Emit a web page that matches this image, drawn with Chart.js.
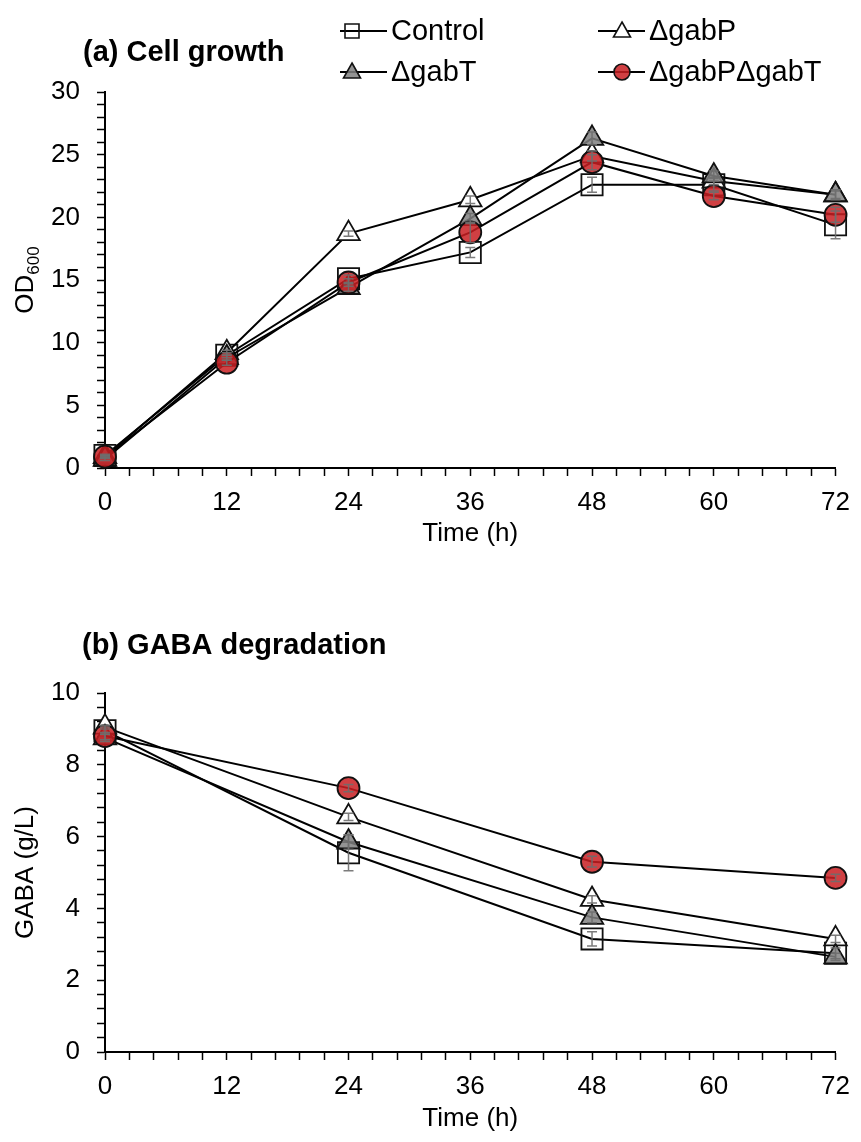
<!DOCTYPE html>
<html>
<head>
<meta charset="utf-8">
<script src="https://cdn.jsdelivr.net/npm/chart.js@4.4.1/dist/chart.umd.min.js"></script>
<style>
  html, body { margin: 0; padding: 0; background: #fff; }
  #wrap { position: relative; width: 861px; height: 1142px; }
  canvas { position: absolute; left: 0; }
</style>
</head>
<body>
<div id="wrap">
  <canvas id="growthChart" width="861" height="571" style="top:0"></canvas>
  <canvas id="gabaChart" width="861" height="571" style="top:571px"></canvas>
</div>
<script>
// series names
const seriesNames = ['Control', 'ΔgabP', 'ΔgabT', 'ΔgabPΔgabT'];

// (a) cell growth, OD600
const growthTimes = [0, 12, 24, 36, 48, 60, 72];
const growthControl = [1.0, 9.0, 15.1, 17.2, 22.6, 22.6, 19.4];
const growthGabP = [0.9, 9.2, 18.7, 21.4, 24.9, 22.9, 21.8];
const growthGabT = [0.7, 8.8, 14.4, 19.9, 26.3, 23.3, 21.8];
const growthGabPT = [0.9, 8.4, 14.8, 18.8, 24.4, 21.7, 20.2];
const growthErrControl = [0.1, 0.2, 0.3, 0.4, 0.6, 0.5, 1.1];
const growthErrGabP = [0.1, 0.2, 0.2, 0.3, 0.4, 0.3, 0.3];
const growthErrGabT = [0.1, 0.2, 0.3, 0.4, 0.5, 0.4, 0.4];
const growthErrGabPT = [0.1, 0.2, 0.3, 0.8, 0.6, 0.3, 0.6];

// (b) GABA, g/L
const gabaTimes = [0, 24, 48, 72];
const gabaControl = [8.95, 5.55, 3.15, 2.75];
const gabaGabP = [9.05, 6.55, 4.25, 3.15];
const gabaGabT = [8.75, 5.85, 3.75, 2.65];
const gabaGabPT = [8.8, 7.35, 5.3, 4.85];
const gabaErrControl = [0.1, 0.5, 0.2, 0.15];
const gabaErrGabP = [0.05, 0.1, 0.1, 0.1];
const gabaErrGabT = [0.1, 0.2, 0.15, 0.1];
const gabaErrGabPT = [0.1, 0.1, 0.15, 0.1];

const FONT = "'Liberation Sans', Arial, sans-serif";

const seriesStyles = [
    {pointStyle: 'rect', radius: 15, fill: 'rgba(0,0,0,0)', order: 4},
    {pointStyle: 'triangle', radius: 13, fill: '#ffffff', order: 3},
    {pointStyle: 'triangle', radius: 13, fill: 'rgba(128,128,128,0.85)', order: 2},
    {pointStyle: 'circle', radius: 11, fill: 'rgba(200,30,34,0.85)', order: 1}
];

function makeDatasets(times, seriesList, errList) {
    return seriesList.map((vals, i) => {
        const st = seriesStyles[i];
        return {
            label: seriesNames[i],
            data: vals.map((v, j) => ({x: times[j], y: v})),
            errors: errList[i],
            borderColor: '#000',
            borderWidth: 2,
            pointStyle: st.pointStyle,
            pointRadius: st.radius,
            pointBackgroundColor: st.fill,
            pointBorderColor: '#111',
            pointBorderWidth: 1.8,
            tension: 0,
            clip: false,
            order: st.order
        };
    });
}

function isMult(v, step) {
    return Math.abs(v / step - Math.round(v / step)) < 1e-6;
}

const errorBars = {
    id: 'errorBars',
    afterDatasetsDraw(chart) {
        const ctx = chart.ctx;
        const ys = chart.scales.y;
        ctx.save();
        ctx.strokeStyle = 'rgba(110,110,110,0.9)';
        ctx.lineWidth = 1.5;
        chart.data.datasets.forEach((ds, i) => {
            const meta = chart.getDatasetMeta(i);
            ds.errors.forEach((e, j) => {
                const pt = meta.data[j];
                const v = ds.data[j].y;
                const top = ys.getPixelForValue(v + e);
                const bot = ys.getPixelForValue(v - e);
                ctx.beginPath();
                ctx.moveTo(pt.x, top); ctx.lineTo(pt.x, bot);
                ctx.moveTo(pt.x - 5, top); ctx.lineTo(pt.x + 5, top);
                ctx.moveTo(pt.x - 5, bot); ctx.lineTo(pt.x + 5, bot);
                ctx.stroke();
            });
        });
        ctx.restore();
    }
};

function drawMarker(ctx, i, x, y) {
    const st = seriesStyles[i];
    ctx.beginPath();
    if (st.pointStyle === 'rect') {
        ctx.rect(x - 7, y - 7, 14, 14);
    } else if (st.pointStyle === 'triangle') {
        ctx.moveTo(x, y - 9);
        ctx.lineTo(x + 8.5, y + 6);
        ctx.lineTo(x - 8.5, y + 6);
        ctx.closePath();
    } else {
        ctx.arc(x, y, 8, 0, Math.PI * 2);
    }
    ctx.fillStyle = st.fill;
    ctx.fill();
    ctx.lineWidth = 1.6;
    ctx.strokeStyle = '#111';
    ctx.stroke();
}

const panelText = {
    id: 'panelText',
    afterDraw(chart, args, opts) {
        const ctx = chart.ctx;
        const area = chart.chartArea;
        ctx.save();
        ctx.fillStyle = '#000';
        // panel title
        ctx.font = 'bold 29px ' + FONT;
        ctx.textBaseline = 'middle';
        ctx.textAlign = 'left';
        ctx.fillText(opts.title, opts.titleX, opts.titleY);

        // y axis title with optional subscript
        ctx.translate(opts.yTitleX, (area.top + area.bottom) / 2);
        ctx.rotate(-Math.PI / 2);
        ctx.font = '26px ' + FONT;
        const mainW = ctx.measureText(opts.yTitle).width;
        let subW = 0;
        if (opts.ySub) {
            ctx.font = '17px ' + FONT;
            subW = ctx.measureText(opts.ySub).width;
        }
        const x0 = -(mainW + subW) / 2;
        ctx.font = '26px ' + FONT;
        ctx.fillText(opts.yTitle, x0, 0);
        if (opts.ySub) {
            ctx.font = '17px ' + FONT;
            ctx.fillText(opts.ySub, x0 + mainW, 8);
        }
        ctx.setTransform(1, 0, 0, 1, 0, 0);

        // legend
        if (opts.legend) {
            const items = [
                {i: 0, x: 340, y: 31, mk: 12},
                {i: 1, x: 598, y: 31, mk: 24},
                {i: 2, x: 340, y: 72, mk: 12},
                {i: 3, x: 598, y: 72, mk: 24}
            ];
            items.forEach(it => {
                ctx.beginPath();
                ctx.moveTo(it.x, it.y);
                ctx.lineTo(it.x + 47, it.y);
                ctx.strokeStyle = '#000';
                ctx.lineWidth = 2;
                ctx.stroke();
                drawMarker(ctx, it.i, it.x + it.mk, it.y);
                ctx.fillStyle = '#000';
                ctx.font = '29px ' + FONT;
                ctx.textAlign = 'left';
                ctx.textBaseline = 'middle';
                ctx.fillText(seriesNames[it.i], it.x + 51, it.y + 1);
            });
        }
        ctx.restore();
    }
};

function makeOptions(cfg) {
    return {
        responsive: false,
        animation: false,
        events: [],
        layout: {padding: {left: 0, right: 18, top: cfg.padTop, bottom: 0}},
        plugins: {
            legend: {display: false},
            tooltip: {enabled: false},
            panelText: cfg.text
        },
        scales: {
            x: {
                type: 'linear',
                min: 0,
                max: 72,
                afterFit: s => { s.height = cfg.xHeight; },
                ticks: {
                    stepSize: 2.4,
                    autoSkip: false,
                    maxRotation: 0,
                    padding: 11,
                    color: '#000',
                    font: {family: FONT, size: 26},
                    callback: v => isMult(v, 12) ? String(Math.round(v)) : ''
                },
                grid: {
                    drawOnChartArea: false,
                    drawTicks: true,
                    tickLength: 8,
                    tickWidth: 1.5,
                    tickColor: '#000'
                },
                border: {display: true, color: '#000', width: 2},
                title: {
                    display: true,
                    text: 'Time (h)',
                    color: '#000',
                    font: {family: FONT, size: 26},
                    padding: {top: 0, bottom: cfg.xTitlePad}
                }
            },
            y: {
                min: 0,
                max: cfg.yMax,
                afterFit: s => { s.width = 105; },
                ticks: {
                    stepSize: cfg.yStep,
                    autoSkip: false,
                    padding: 17,
                    color: '#000',
                    font: {family: FONT, size: 26},
                    callback: v => isMult(v, cfg.yLabelStep) ? String(Math.round(v)) : ''
                },
                grid: {
                    drawOnChartArea: false,
                    drawTicks: true,
                    tickLength: 8,
                    tickWidth: 1.5,
                    tickColor: '#000'
                },
                border: {display: true, color: '#000', width: 2}
            }
        }
    };
}

document.addEventListener('DOMContentLoaded', () => {
    new Chart(document.getElementById('growthChart'), {
        type: 'line',
        data: {
            datasets: makeDatasets(growthTimes,
                [growthControl, growthGabP, growthGabT, growthGabPT],
                [growthErrControl, growthErrGabP, growthErrGabT, growthErrGabPT])
        },
        options: makeOptions({
            padTop: 92, xHeight: 103, xTitlePad: 22, yMax: 30, yStep: 1, yLabelStep: 5,
            text: {title: '(a) Cell growth', titleX: 83, titleY: 53,
                   yTitle: 'OD', ySub: '600', yTitleX: 26, legend: true}
        }),
        plugins: [errorBars, panelText]
    });

    new Chart(document.getElementById('gabaChart'), {
        type: 'line',
        data: {
            datasets: makeDatasets(gabaTimes,
                [gabaControl, gabaGabP, gabaGabT, gabaGabPT],
                [gabaErrControl, gabaErrGabP, gabaErrGabT, gabaErrGabPT])
        },
        options: makeOptions({
            padTop: 122, xHeight: 90, xTitlePad: 8, yMax: 10, yStep: 0.4, yLabelStep: 2,
            text: {title: '(b) GABA degradation', titleX: 82, titleY: 75,
                   yTitle: 'GABA (g/L)', ySub: '', yTitleX: 26, legend: false}
        }),
        plugins: [errorBars, panelText]
    });
});
</script>
</body>
</html>
